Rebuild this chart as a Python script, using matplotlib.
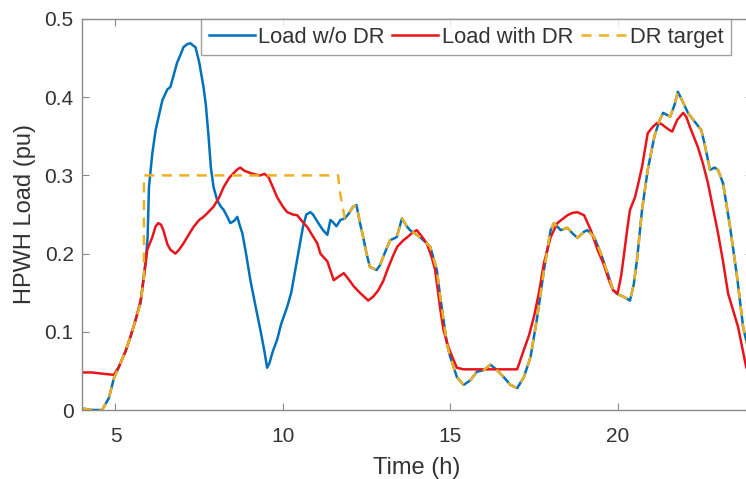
import matplotlib
matplotlib.use("Agg")
import matplotlib.pyplot as plt

plt.rcParams['font.family'] = ['Liberation Sans', 'DejaVu Sans']

# Load without demand response (pu)
t_wo = [4.0, 4.3, 4.6, 4.8, 4.95, 5.1, 5.3, 5.45, 5.6, 5.75, 5.9, 5.96, 6.0, 6.1, 6.2, 6.4,
        6.55, 6.64, 6.75, 6.84, 6.95, 7.03, 7.15, 7.24, 7.32, 7.39, 7.5, 7.63, 7.7, 7.78,
        7.85, 7.93, 8.04, 8.15, 8.23, 8.33, 8.43, 8.55, 8.64, 8.72, 8.79, 8.9, 9.03, 9.15,
        9.33, 9.45, 9.53, 9.6, 9.7, 9.83, 9.95, 10.13, 10.25, 10.37, 10.5, 10.6, 10.7,
        10.82, 10.9, 11.06, 11.2, 11.33, 11.42, 11.5, 11.6, 11.72, 11.85, 11.95, 12.1,
        12.2, 12.3, 12.4, 12.5, 12.6, 12.8, 12.9, 13.0, 13.2, 13.4, 13.56, 13.7, 13.8,
        14.1, 14.4, 14.6, 14.7, 14.9, 15.0, 15.2, 15.4, 15.6, 15.8, 16.0, 16.2, 16.4,
        16.6, 16.8, 17.0, 17.2, 17.4, 17.6, 17.8, 18.0, 18.1, 18.3, 18.5, 18.65, 18.8,
        19.0, 19.1, 19.3, 19.5, 19.7, 19.87, 20.0, 20.17, 20.37, 20.48, 20.58, 20.73,
        20.9, 21.1, 21.25, 21.36, 21.57, 21.7, 21.8, 21.96, 22.1, 22.26, 22.5, 22.6,
        22.76, 22.9, 23.0, 23.15, 23.36, 23.57, 23.75, 24.0]
load_wo = [0.002, 0.0, 0.0, 0.015, 0.04, 0.055, 0.075, 0.094, 0.115, 0.137, 0.19, 0.22, 0.285, 0.328, 0.358, 0.396,
           0.41, 0.413, 0.43, 0.444, 0.455, 0.464, 0.468, 0.469, 0.466, 0.464, 0.445, 0.413, 0.39, 0.35,
           0.31, 0.285, 0.268, 0.26, 0.256, 0.248, 0.239, 0.242, 0.247, 0.235, 0.226, 0.2, 0.166, 0.14,
           0.102, 0.075, 0.054, 0.06, 0.075, 0.09, 0.11, 0.132, 0.15, 0.179, 0.21, 0.234, 0.25,
           0.253, 0.25, 0.239, 0.23, 0.224, 0.243, 0.24, 0.235, 0.243, 0.245, 0.25, 0.26,
           0.262, 0.24, 0.221, 0.2, 0.183, 0.179, 0.185, 0.196, 0.217, 0.221, 0.245, 0.235, 0.23,
           0.221, 0.209, 0.179, 0.145, 0.085, 0.068, 0.042, 0.032, 0.038, 0.049, 0.051, 0.058, 0.051,
           0.042, 0.032, 0.028, 0.042, 0.068, 0.119, 0.179, 0.23, 0.239, 0.23, 0.233, 0.226, 0.22,
           0.228, 0.23, 0.221, 0.2, 0.175, 0.153, 0.148, 0.145, 0.14, 0.16, 0.192, 0.256,
           0.307, 0.35, 0.37, 0.38, 0.375, 0.39, 0.407, 0.393, 0.38, 0.371, 0.358, 0.34,
           0.307, 0.31, 0.307, 0.29, 0.234, 0.17, 0.106, 0.06]

# Load with demand response (pu)
t_dr = [4.0, 4.3, 4.5, 4.7, 4.95, 5.1, 5.3, 5.45, 5.6, 5.75, 5.85, 5.95, 6.1, 6.2, 6.28, 6.36,
        6.43, 6.55, 6.64, 6.79, 6.9, 7.03, 7.2, 7.33, 7.5, 7.63, 7.75, 7.84, 7.93, 8.1, 8.23,
        8.4, 8.53, 8.65, 8.73, 8.85, 9.03, 9.2, 9.33, 9.45, 9.57, 9.7, 9.83, 10.0, 10.13,
        10.3, 10.43, 10.6, 10.73, 10.9, 11.03, 11.12, 11.33, 11.52, 11.65, 11.82, 11.95,
        12.12, 12.3, 12.55, 12.7, 12.85, 13.0, 13.12, 13.3, 13.42, 13.6, 13.72, 13.85, 14.0,
        14.15, 14.3, 14.45, 14.55, 14.7, 14.8, 14.95, 15.1, 15.2, 15.4, 16.0, 16.5, 17.0,
        17.2, 17.35, 17.5, 17.65, 17.8, 18.0, 18.2, 18.5, 18.65, 18.8, 19.0, 19.2, 19.4,
        19.57, 19.75, 19.87, 20.0, 20.1, 20.17, 20.3, 20.37, 20.52, 20.62, 20.73, 20.9,
        21.05, 21.18, 21.3, 21.42, 21.55, 21.63, 21.78, 21.96, 22.05, 22.16, 22.4, 22.55,
        22.7, 23.0, 23.15, 23.3, 23.6, 23.84, 24.0]
load_dr = [0.048, 0.048, 0.047, 0.046, 0.045, 0.055, 0.075, 0.094, 0.115, 0.14, 0.17, 0.205, 0.221, 0.235, 0.239, 0.237,
           0.23, 0.212, 0.205, 0.2, 0.205, 0.213, 0.225, 0.234, 0.243, 0.247, 0.252, 0.256, 0.26, 0.272, 0.285,
           0.297, 0.303, 0.308, 0.31, 0.306, 0.303, 0.301, 0.3, 0.302, 0.298, 0.285, 0.272, 0.26, 0.253,
           0.25, 0.249, 0.24, 0.234, 0.222, 0.213, 0.2, 0.19, 0.166, 0.17, 0.175, 0.168,
           0.158, 0.15, 0.14, 0.145, 0.153, 0.165, 0.179, 0.198, 0.209, 0.217, 0.221, 0.226, 0.23,
           0.222, 0.213, 0.195, 0.179, 0.13, 0.102, 0.08, 0.064, 0.054, 0.052, 0.052, 0.052, 0.052,
           0.077, 0.095, 0.119, 0.15, 0.188, 0.221, 0.239, 0.249, 0.252, 0.253, 0.249, 0.23, 0.205,
           0.188, 0.165, 0.153, 0.149, 0.17, 0.192, 0.235, 0.256, 0.272, 0.29, 0.311, 0.354,
           0.362, 0.367, 0.366, 0.362, 0.358, 0.356, 0.371, 0.38, 0.375, 0.362, 0.336, 0.315,
           0.29, 0.226, 0.19, 0.149, 0.106, 0.055, 0.04]

# DR target: flat target during the DR window, otherwise the baseline load
dr_window_t = [5.85, 5.85, 11.65, 11.7]
dr_window_y = [0.17, 0.3, 0.3, 0.28]

before = [(t, y) for t, y in zip(t_wo, load_wo) if t < 5.85]
after = [(t, y) for t, y in zip(t_wo, load_wo) if t > 11.72]
t_target = [p[0] for p in before] + dr_window_t + [p[0] for p in after]
target = [p[1] for p in before] + dr_window_y + [p[1] for p in after]

x_ticks = [5, 10, 15, 20]
y_ticks = [0, 0.1, 0.2, 0.3, 0.4, 0.5]
y_tick_labels = ['0', '0.1', '0.2', '0.3', '0.4', '0.5']

W, H = 746, 479
fig = plt.figure(figsize=(W / 100, H / 100), dpi=100)
ax = fig.add_axes([82 / W, 1 - 410 / H, 669.5 / W, 391 / H])

lw = 1.8
l1, = ax.plot(t_wo, load_wo, color='#0072BD', lw=lw, label='Load w/o DR')
l2, = ax.plot(t_dr, load_dr, color='#E8151B', lw=lw, label='Load with DR')
l3, = ax.plot(t_target, target, color='#EDB120', lw=lw, linestyle=(0, (4, 3)), label='DR target')

ax.set_xlim(4, 24)
ax.set_ylim(0, 0.5)
ax.set_xticks(x_ticks)
ax.set_yticks(y_ticks)
ax.set_yticklabels(y_tick_labels)

spine_col = '#8a8a8a'
for s in ax.spines.values():
    s.set_color(spine_col)
    s.set_linewidth(1.0)
ax.tick_params(direction='in', length=5, width=0.8, color=spine_col,
               top=True, right=True, labelsize=15, labelcolor='#333333')
ax.tick_params(axis='x', pad=12)
ax.tick_params(axis='y', pad=6)

ax.set_xlabel('Time (h)', fontsize=17, color='#333333', labelpad=8)
ax.set_ylabel('HPWH Load (pu)', fontsize=17, color='#333333', labelpad=6)

leg = fig.legend(handles=[l1, l2, l3], loc='upper left',
                 bbox_to_anchor=(201 / W, 1 - 19 / H), bbox_transform=fig.transFigure,
                 ncol=3, fontsize=15.8, frameon=True, fancybox=False, borderaxespad=0,
                 handlelength=2.1, handletextpad=0.15, columnspacing=0.35,
                 borderpad=0.35, labelcolor='#333333')
leg.get_frame().set_edgecolor('#8a8a8a')
leg.get_frame().set_linewidth(1.0)

fig.savefig('out.png', dpi=100)
